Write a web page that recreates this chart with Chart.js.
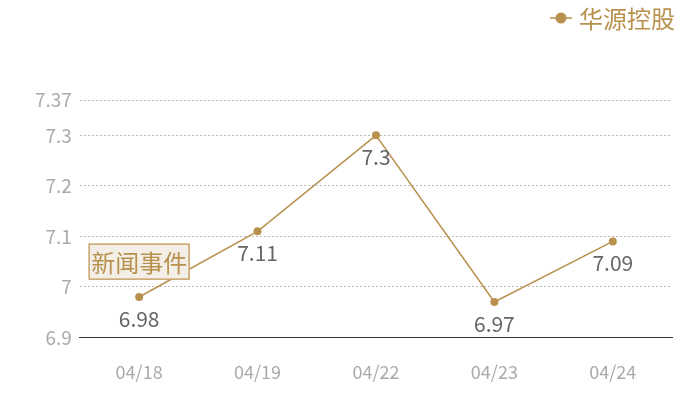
<!DOCTYPE html>
<html>
<head>
<meta charset="utf-8">
<script src="https://cdn.jsdelivr.net/npm/chart.js@4/dist/chart.umd.min.js"></script>
<style>
  body { margin: 0; background: #fff; }
  #wrap { width: 700px; height: 400px; }
</style>
</head>
<body>
<div id="wrap"><canvas id="priceChart"></canvas></div>
<script>
const dates = ['04/18', '04/19', '04/22', '04/23', '04/24'];
const closePrices = [6.98, 7.11, 7.3, 6.97, 7.09];
const yTicks = [6.9, 7, 7.1, 7.2, 7.3, 7.37];
const seriesName = '华源控股';
const newsLabel = '新闻事件';

const gold = '#b8914f';
const fontFamily = '"Noto Sans CJK SC", "Noto Sans", sans-serif';

// legend drawn by hand: line + dot, then the series name, top right
const topLegend = {
  id: 'topLegend',
  afterDraw(chart) {
    const ctx = chart.ctx;
    const right = chart.chartArea.right + 3;
    const y = 18;
    ctx.save();
    ctx.font = '24px ' + fontFamily;
    const tw = ctx.measureText(seriesName).width;
    const tx = right - tw;
    ctx.strokeStyle = gold;
    ctx.lineWidth = 1.5;
    ctx.beginPath();
    ctx.moveTo(tx - 29, y);
    ctx.lineTo(tx - 7, y);
    ctx.stroke();
    ctx.fillStyle = gold;
    ctx.beginPath();
    ctx.arc(tx - 18, y, 5.5, 0, Math.PI * 2);
    ctx.fill();
    ctx.textAlign = 'left';
    ctx.textBaseline = 'middle';
    ctx.fillText(seriesName, tx, y + 1);
    ctx.restore();
  }
};

const valueLabels = {
  id: 'valueLabels',
  afterDatasetsDraw(chart) {
    const ctx = chart.ctx;
    const meta = chart.getDatasetMeta(0);
    ctx.save();
    ctx.font = '21px ' + fontFamily;
    ctx.fillStyle = '#666';
    ctx.textAlign = 'center';
    ctx.textBaseline = 'middle';
    meta.data.forEach((pt, i) => {
      ctx.fillText(String(closePrices[i]), pt.x, pt.y + 22);
    });
    ctx.restore();
  }
};

const newsBox = {
  id: 'newsBox',
  afterDatasetsDraw(chart) {
    const ctx = chart.ctx;
    const x = chart.scales.x.getPixelForValue(0);
    const y = chart.scales.y.getPixelForValue(7.05);
    const w = 100, h = 35;
    ctx.save();
    ctx.fillStyle = '#f3eee6';
    ctx.strokeStyle = '#c9a36b';
    ctx.lineWidth = 1.5;
    ctx.fillRect(x - w / 2, y - h / 2, w, h);
    ctx.strokeRect(x - w / 2, y - h / 2, w, h);
    ctx.font = '24px ' + fontFamily;
    ctx.fillStyle = gold;
    ctx.textAlign = 'center';
    ctx.textBaseline = 'middle';
    ctx.fillText(newsLabel, x, y + 1);
    ctx.restore();
  }
};

const ctx = document.getElementById('priceChart').getContext('2d');
const priceChart = new Chart(ctx, {
  type: 'line',
  data: {
    labels: dates,
    datasets: [{
      label: seriesName,
      data: closePrices,
      borderColor: gold,
      backgroundColor: gold,
      borderWidth: 1.5,
      pointRadius: 4,
      pointHoverRadius: 4,
      pointBackgroundColor: gold,
      pointBorderWidth: 0,
      pointStyle: 'circle',
      tension: 0
    }]
  },
  options: {
    responsive: true,
    maintainAspectRatio: false,
    animation: false,
    layout: { padding: { left: 27, right: 28, top: 100, bottom: -7 } },
    plugins: {
      tooltip: { enabled: false },
      legend: { display: false }
    },
    scales: {
      x: {
        offset: true,
        grid: { display: false, drawTicks: false },
        border: { display: true, color: '#333', width: 1 },
        ticks: {
          color: '#aaa',
          font: { size: 18, family: fontFamily },
          padding: 24
        }
      },
      y: {
        min: 6.9,
        max: 7.37,
        afterBuildTicks(scale) {
          scale.ticks = yTicks.map(v => ({ value: v }));
        },
        grid: {
          color: '#bbb',
          drawTicks: false
        },
        border: { display: false, dash: [2, 2] },
        ticks: {
          color: '#aaa',
          font: { size: 19, family: fontFamily },
          padding: 8,
          callback: v => String(v)
        }
      }
    }
  },
  plugins: [topLegend, valueLabels, newsBox]
});
</script>
</body>
</html>
